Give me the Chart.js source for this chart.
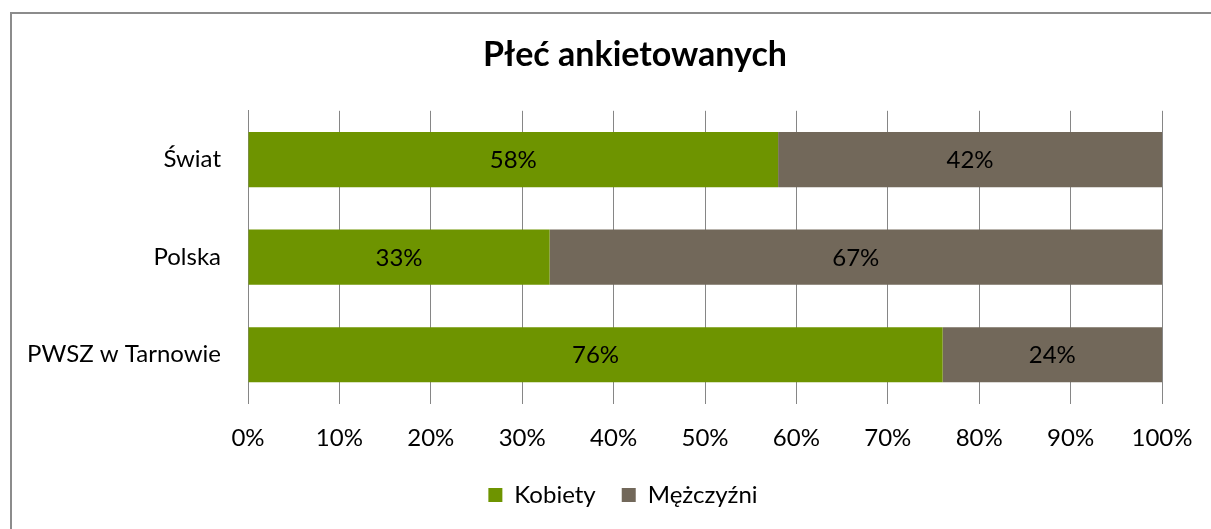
<!DOCTYPE html>
<html>
<head>
<meta charset="utf-8">
<script src="https://cdn.jsdelivr.net/npm/chart.js@4"></script>
<style>
html,body{margin:0;padding:0;background:#fff;overflow:hidden;width:1211px;height:529px;}
#frame{position:absolute;left:10px;top:12px;width:1246px;height:530px;border:2px solid #8c8c8c;background:#fff;}
#wrap{position:absolute;left:0;top:0;width:1246px;height:515px;}
</style>
</head>
<body>
<div id="frame"><div id="wrap"><canvas id="chart"></canvas></div></div>
<script>
const categories=["Świat","Polska","PWSZ w Tarnowie"];
const kobiety=[58,33,76];
const mezczyzni=[42,67,24];
const tickLabels=["0%","10%","20%","30%","40%","50%","60%","70%","80%","90%","100%"];

const FONT="Lato, 'Open Sans', sans-serif";
const BOTTOM=12;

// labels in the middle of every segment
const segLabels={
id:"segLabels",
afterLayout(chart){
// legend sits a bit left of the title in the original
chart.legend.left-=12;
chart.legend.right-=12;
},
afterDatasetsDraw(chart){
const c=chart.ctx;
c.save();
c.font="24px "+FONT;
c.fillStyle="#000";
c.textAlign="center";
c.textBaseline="middle";
chart.data.datasets.forEach((ds,i)=>{
chart.getDatasetMeta(i).data.forEach((bar,j)=>{
c.fillText(ds.data[j]+"%",(bar.x+bar.base)/2,bar.y+1);
});
});
c.restore();
}
};

new Chart(document.getElementById("chart"),{
type:"bar",
data:{
labels:categories,
datasets:[
{label:"Kobiety",data:kobiety,backgroundColor:"#6e9400",xAxisID:"x",yAxisID:"y"},
{label:"Mężczyźni",data:mezczyzni,backgroundColor:"#72685a",xAxisID:"x",yAxisID:"y"}
]
},
options:{
indexAxis:"y",
responsive:true,
maintainAspectRatio:false,
animation:false,
categoryPercentage:1,
barPercentage:0.565,
layout:{padding:{bottom:BOTTOM}},
scales:{
x:{
stacked:true,min:0,max:100,
grid:{color:"#868686",drawTicks:false},
border:{display:false},
ticks:{stepSize:10,padding:20,color:"#000",font:{family:FONT,size:24},
callback:(v)=>tickLabels[v/10]},
afterFit:(s)=>{s.height=s.chart.height-s.chart.legend.height-BOTTOM-389.5;}
},
y:{
stacked:true,
grid:{display:false,drawTicks:false},
border:{display:true,color:"#868686"},
ticks:{padding:27,color:"#000",font:{family:FONT,size:24}},
afterFit:(s)=>{s.width=236;}
},
// empty space on the right, keeps title and legend centred on the whole frame
spacer:{
type:"linear",position:"right",
grid:{display:false,drawTicks:false},
border:{display:false},
ticks:{display:false},
afterFit:(s)=>{s.width=96;}
}
},
plugins:{
title:{display:true,text:"Płeć ankietowanych",color:"#000",
font:{family:FONT,size:34,weight:"bold"},padding:{top:21,bottom:35}},
legend:{position:"bottom",
labels:{boxWidth:14,boxHeight:14,color:"#000",padding:26,font:{family:FONT,size:24}}},
tooltip:{enabled:false}
}
},
plugins:[segLabels]
});
</script>
</body>
</html>
